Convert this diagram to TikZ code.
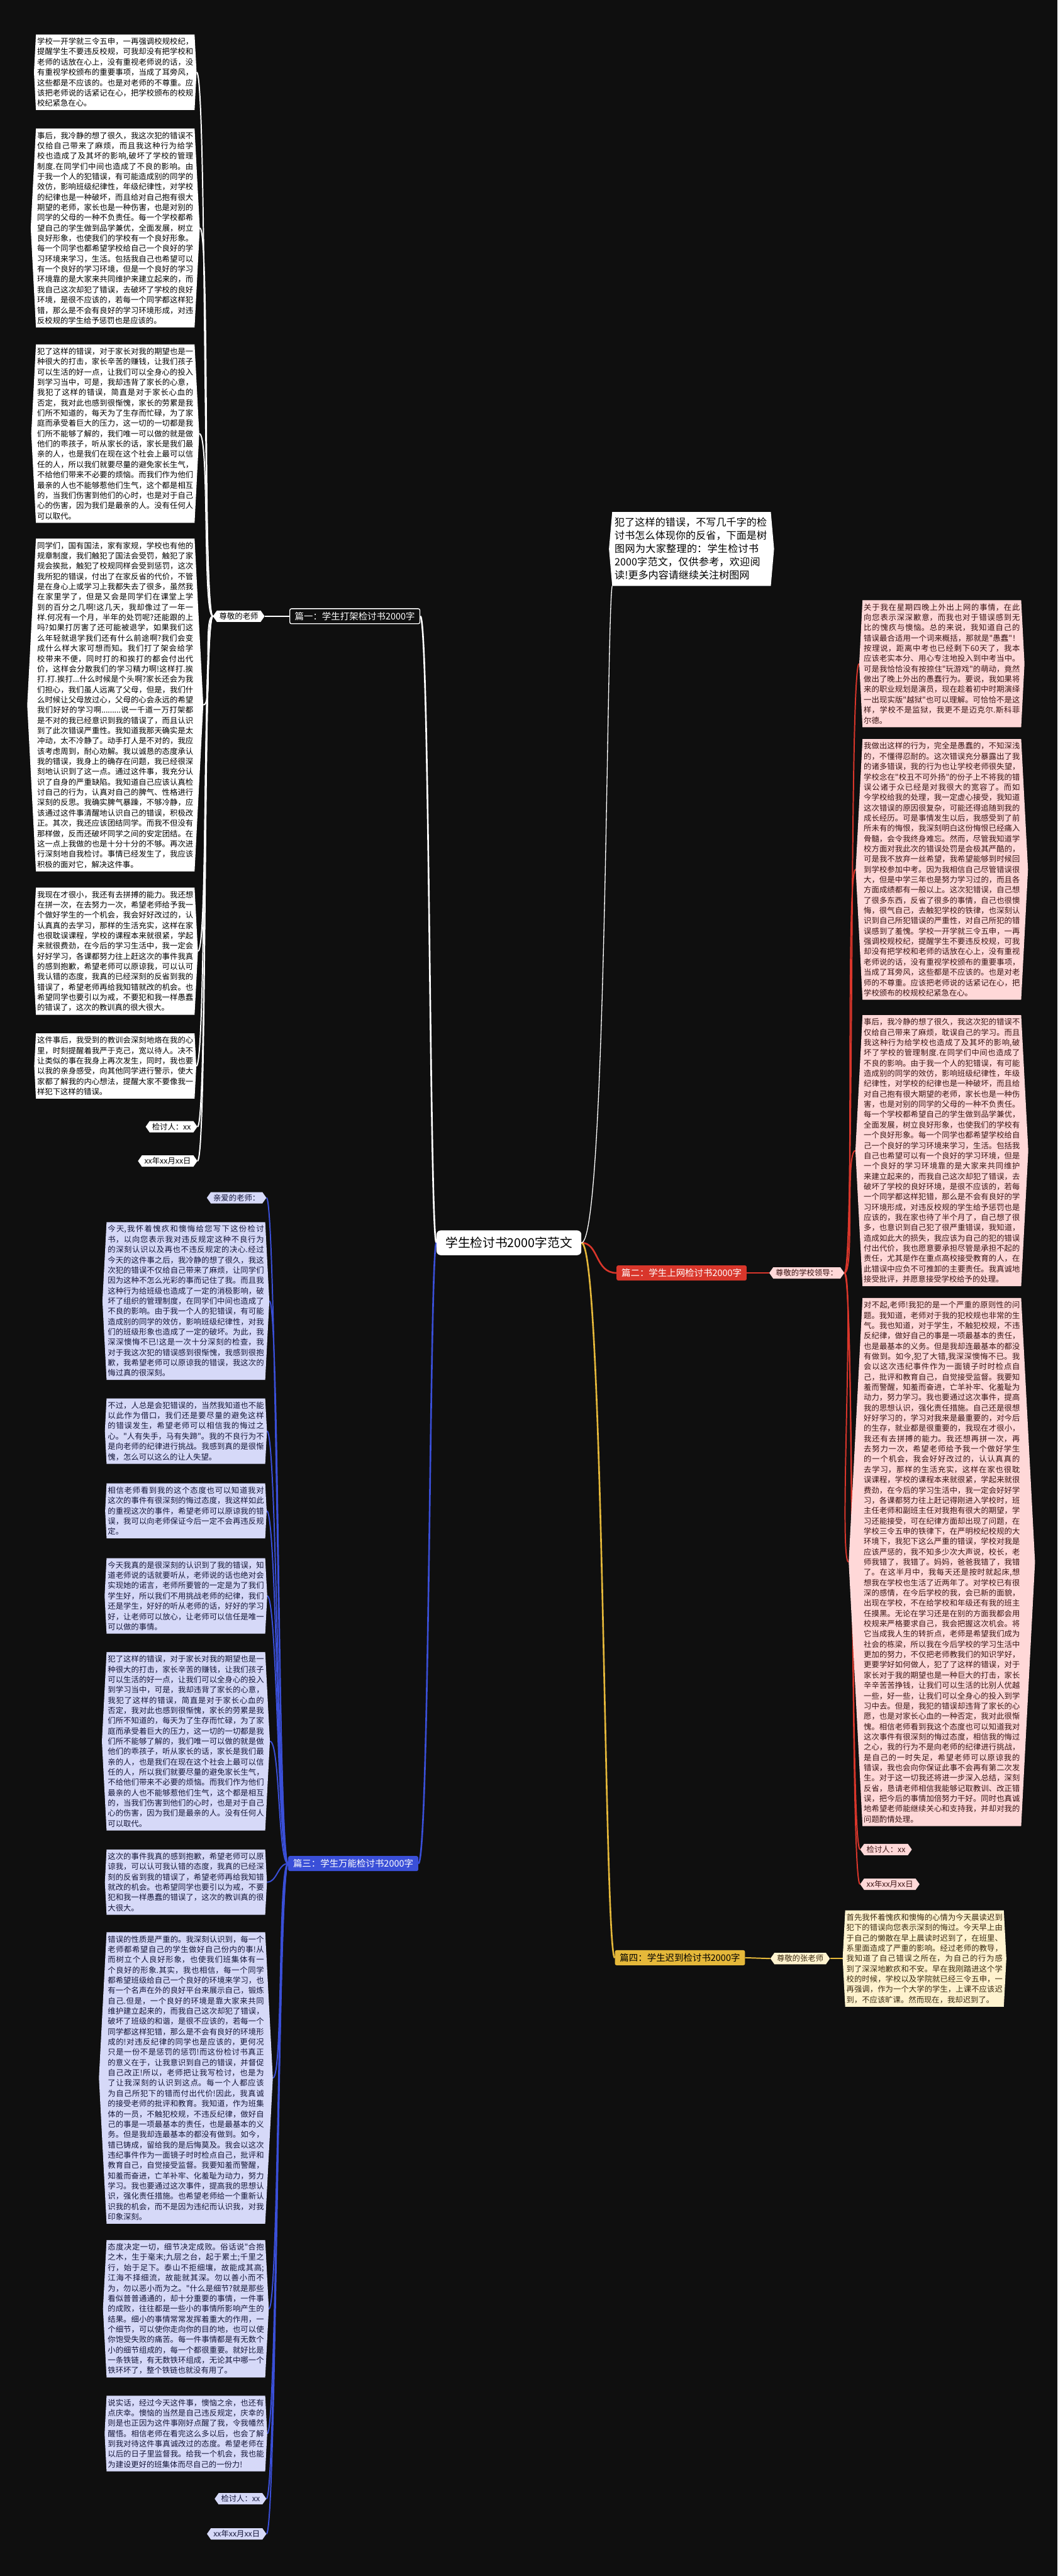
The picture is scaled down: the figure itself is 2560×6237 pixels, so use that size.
\documentclass[tikz,border=0pt]{standalone}
\usepackage{fontspec}
\newfontfamily\cjk{Noto Sans CJK SC}
\usetikzlibrary{shapes.symbols}
\XeTeXlinebreaklocale "zh"
\XeTeXlinebreakskip=0pt plus 1pt
\definecolor{bgc}{HTML}{0F0F0F}
\definecolor{pinkf}{HTML}{FFD8D8}
\definecolor{pinkt}{HTML}{3A1414}
\definecolor{bluef}{HTML}{D6D9F8}
\definecolor{bluet}{HTML}{14163A}
\definecolor{yelf}{HTML}{FFF3CF}
\definecolor{yelt}{HTML}{3A2A10}
\definecolor{redl}{HTML}{D9362B}
\definecolor{bluel}{HTML}{3A4FD8}
\definecolor{yell}{HTML}{E5B83A}
\pgfdeclarelayer{back}
\pgfdeclarelayer{bg}
\pgfsetlayers{back,bg,main}
\tikzset{
  tb/.style={signal, signal to=west and east, signal pointer angle=174,
    inner xsep=3pt, inner ysep=8pt, text width=378pt, align=justify,
    font=\cjk\fontsize{18.8}{24.9}\selectfont},
  wbox/.style={tb, fill=white, text=black},
  pbox/.style={tb, fill=pinkf, text=pinkt},
  bbox/.style={tb, fill=bluef, text=bluet},
  ybox/.style={tb, fill=yelf, text=yelt},
  sm/.style={signal, signal to=west and east, signal pointer angle=110,
    inner xsep=6pt, inner ysep=5pt, font=\cjk\fontsize{18.8}{22}\selectfont},
  branch/.style={rounded corners=4pt, inner xsep=12pt, inner ysep=8pt,
    font=\cjk\fontsize{22}{26}\selectfont},
  wl/.style={draw=white, line width=3pt},
  rl/.style={draw=redl, line width=3pt},
  bl/.style={draw=bluel, line width=3pt},
  yl/.style={draw=yell, line width=3pt},
}
\begin{document}
\begin{tikzpicture}[x=1pt,y=-1pt]
\begin{pgfonlayer}{back}
\fill[bgc] (0,0) rectangle (2560,6237);
\end{pgfonlayer}
\useasboundingbox (0,0) rectangle (2560,6237);

% center
\node[fill=white, text=black, rounded corners=10pt, inner xsep=22pt, inner ysep=16pt,
  font=\cjk\fontsize{30}{34}\selectfont] (c) at (1232,3009) {学生检讨书2000字范文};

% intro
\node[signal, signal to=west and east, signal pointer angle=170, fill=white, text=black,
  inner xsep=6pt, inner ysep=14pt, text width=372pt, align=left,
  font=\cjk\fontsize{24.5}{32}\selectfont] (intro) at (1674,1329)
  {犯了这样的错误，不写几千字的检讨书怎么体现你的反省，下面是树图网为大家整理的：学生检讨书2000字范文，仅供参考，欢迎阅读!更多内容请继续关注树图网};

% branches
\node[branch, fill=bgc, text=white, draw=white, line width=2pt] (p1) at (859,1492) {篇一：学生打架检讨书2000字};
\node[branch, fill=bluel, text=white] (p3) at (855,4512) {篇三：学生万能检讨书2000字};
\node[branch, fill=redl, text=white] (p2) at (1650,3082) {篇二：学生上网检讨书2000字};
\node[branch, fill=yell, text=black] (p4) at (1646,4740) {篇四：学生迟到检讨书2000字};

\node[sm, fill=white, text=black] (s1) at (578,1492) {尊敬的老师};
\node[sm, fill=pinkf, text=pinkt] (s2) at (1953,3082) {尊敬的学校领导：};
\node[sm, fill=yelf, text=yelt] (s4) at (1937,4742) {尊敬的张老师};

% left column (篇一)
\node[wbox] (L1) at (279,175) {学校一开学就三令五申，一再强调校规校纪，提醒学生不要违反校规，可我却没有把学校和老师的话放在心上，没有重视老师说的话，没有重视学校颁布的重要事项，当成了耳旁风，这些都是不应该的。也是对老师的不尊重。应该把老师说的话紧记在心，把学校颁布的校规校纪紧急在心。};
\node[wbox] (L2) at (279,552) {事后，我冷静的想了很久，我这次犯的错误不仅给自己带来了麻烦，而且我这种行为给学校也造成了及其坏的影响,破坏了学校的管理制度.在同学们中间也造成了不良的影响。由于我一个人的犯错误，有可能造成别的同学的效仿，影响班级纪律性，年级纪律性，对学校的纪律也是一种破坏，而且给对自己抱有很大期望的老师，家长也是一种伤害，也是对别的同学的父母的一种不负责任。每一个学校都希望自己的学生做到品学兼优，全面发展，树立良好形象，也使我们的学校有一个良好形象。每一个同学也都希望学校给自己一个良好的学习环境来学习，生活。包括我自己也希望可以有一个良好的学习环境，但是一个良好的学习环境靠的是大家来共同维护来建立起来的，而我自己这次却犯了错误，去破坏了学校的良好环境，是很不应该的，若每一个同学都这样犯错，那么是不会有良好的学习环境形成，对违反校规的学生给予惩罚也是应该的。};
\node[wbox] (L3) at (279,1050) {犯了这样的错误，对于家长对我的期望也是一种很大的打击，家长辛苦的赚钱，让我们孩子可以生活的好一点，让我们可以全身心的投入到学习当中，可是，我却违背了家长的心意，我犯了这样的错误，简直是对于家长心血的否定，我对此也感到很惭愧，家长的劳累是我们所不知道的，每天为了生存而忙碌，为了家庭而承受着巨大的压力，这一切的一切都是我们所不能够了解的，我们唯一可以做的就是做他们的乖孩子，听从家长的话，家长是我们最亲的人，也是我们在现在这个社会上最可以信任的人，所以我们就要尽量的避免家长生气，不给他们带来不必要的烦恼。而我们作为他们最亲的人也不能够惹他们生气，这个都是相互的，当我们伤害到他们的心时，也是对于自己心的伤害，因为我们是最亲的人。没有任何人可以取代。};
\node[wbox] (L4) at (279,1707) {同学们，国有国法，家有家规，学校也有他的规章制度，我们触犯了国法会受罚，触犯了家规会挨批，触犯了校规同样会受到惩罚，这次我所犯的错误，付出了在家反省的代价，不管是在身心上或学习上我都失去了很多，虽然我在家里学了，但是又会是同学们在课堂上学到的百分之几啊!这几天，我却像过了一年一样.何况有一个月，半年的处罚呢?还能跟的上吗?如果打厉害了还可能被退学，如果我们这么年轻就退学我们还有什么前途啊?我们会变成什么样大家可想而知。我们打了架会给学校带来不便，同时打的和挨打的都会付出代价，这样会分散我们的学习精力啊!这样打.挨打.打.挨打...什么时候是个头啊?家长还会为我们担心，我们虽人远离了父母，但是，我们什么时候让父母放过心，父母的心会永远的希望我们好好的学习啊.........说一千道一万打架都是不对的我已经意识到我的错误了，而且认识到了此次错误严重性。我知道我那天确实是太冲动，太不冷静了。动手打人是不对的，我应该考虑周到，耐心劝解。我以诚恳的态度承认我的错误，我身上的确存在问题，我已经很深刻地认识到了这一点。通过这件事，我充分认识了自身的严重缺陷。我知道自己应该认真检讨自己的行为，认真对自己的脾气、性格进行深刻的反思。我确实脾气暴躁，不够冷静，应该通过这件事清醒地认识自己的错误，积极改正。其次，我还应该团结同学。而我不但没有那样做，反而还破坏同学之间的安定团结。在这一点上我做的也是十分十分的不够。再次进行深刻地自我检讨。事情已经发生了，我应该积极的面对它，解决这件事。};
\node[wbox] (L5) at (279,2303) {我现在才很小，我还有去拼搏的能力。我还想在拼一次，在去努力一次，希望老师给予我一个做好学生的一个机会，我会好好改过的，认认真真的去学习，那样的生活充实，这样在家也很耽误课程，学校的课程本来就很紧，学起来就很费劲，在今后的学习生活中，我一定会好好学习，各课都努力往上赶这次的事件我真的感到抱歉，希望老师可以原谅我，可以认可我认错的态度，我真的已经深刻的反省到我的错误了，希望老师再给我知错就改的机会。也希望同学也要引以为戒，不要犯和我一样愚蠢的错误了，这次的教训真的很大很大。};
\node[wbox] (L6) at (279,2581) {这件事后，我受到的教训会深刻地烙在我的心里，时刻提醒着我严于克己，宽以待人。决不让类似的事在我身上再次发生，同时，我也要以我的亲身感受，向其他同学进行警示，使大家都了解我的内心想法，提醒大家不要像我一样犯下这样的错误。};
\node[sm, fill=white, text=black, anchor=east] (LK) at (478,2728) {检讨人：xx};
\node[sm, fill=white, text=black, anchor=east] (LD) at (478,2811) {xx年xx月xx日};

% blue column (篇三)
\node[sm, fill=bluef, text=bluet, anchor=east] (B0) at (645,2900) {亲爱的老师：};
\node[bbox] (B1) at (450,3150) {今天,我怀着愧疚和懊悔给您写下这份检讨书，以向您表示我对违反规定这种不良行为的深刻认识以及再也不违反规定的决心.经过今天的这件事之后，我冷静的想了很久，我这次犯的错误不仅给自己带来了麻烦，让同学们因为这种不怎么光彩的事而记住了我。而且我这种行为给班级也造成了一定的消极影响，破坏了组织的管理制度，在同学们中间也造成了不良的影响。由于我一个人的犯错误，有可能造成别的同学的效仿，影响班级纪律性，对我们的班级形象也造成了一定的破坏。为此，我深深懊悔不已!这是一次十分深刻的检查，我对于我这次犯的错误感到很惭愧，我感到很抱歉，我希望老师可以原谅我的错误，我这次的悔过真的很深刻。};
\node[bbox] (B2) at (450,3465) {不过，人总是会犯错误的，当然我知道也不能以此作为借口，我们还是要尽量的避免这样的错误发生，希望老师可以相信我的悔过之心。"人有失手，马有失蹄"。我的不良行为不是向老师的纪律进行挑战。我感到真的是很惭愧，怎么可以这么的让人失望。};
\node[bbox] (B3) at (450,3658) {相信老师看到我的这个态度也可以知道我对这次的事件有很深刻的悔过态度，我这样如此的重视这次的事件，希望老师可以原谅我的错误，我可以向老师保证今后一定不会再违反规定。};
\node[bbox] (B4) at (450,3864) {今天我真的是很深刻的认识到了我的错误，知道老师说的话就要听从，老师说的话也绝对会实现她的诺言，老师所要管的一定是为了我们学生好，所以我们不用挑战老师的纪律，我们还是学生，好好的听从老师的话，好好的学习好，让老师可以放心，让老师可以信任是唯一可以做的事情。};
\node[bbox] (B5) at (450,4216) {犯了这样的错误，对于家长对我的期望也是一种很大的打击，家长辛苦的赚钱，让我们孩子可以生活的好一点，让我们可以全身心的投入到学习当中，可是，我却违背了家长的心意，我犯了这样的错误，简直是对于家长心血的否定，我对此也感到很惭愧，家长的劳累是我们所不知道的，每天为了生存而忙碌，为了家庭而承受着巨大的压力，这一切的一切都是我们所不能够了解的，我们唯一可以做的就是做他们的乖孩子，听从家长的话，家长是我们最亲的人，也是我们在现在这个社会上最可以信任的人，所以我们就要尽量的避免家长生气，不给他们带来不必要的烦恼。而我们作为他们最亲的人也不能够惹他们生气，这个都是相互的，当我们伤害到他们的心时，也是对于自己心的伤害，因为我们是最亲的人。没有任何人可以取代。};
\node[bbox] (B6) at (450,4557) {这次的事件我真的感到抱歉，希望老师可以原谅我，可以认可我认错的态度，我真的已经深刻的反省到我的错误了，希望老师再给我知错就改的机会。也希望同学也要引以为戒，不要犯和我一样愚蠢的错误了，这次的教训真的很大很大。};
\node[bbox] (B7) at (450,5031) {错误的性质是严重的。我深刻认识到，每一个老师都希望自己的学生做好自己份内的事!从而树立个人良好形象，也使我们班集体有一个良好的形象.其实，我也相信，每一个同学都希望班级给自己一个良好的环境来学习，也有一个名声在外的良好平台来展示自己，锻炼自己.但是，一个良好的环境是靠大家来共同维护建立起来的，而我自己这次却犯了错误，破坏了班级的和谐，是很不应该的，若每一个同学都这样犯错，那么是不会有良好的环境形成的!对违反纪律的同学也是应该的，更何况只是一份不是惩罚的惩罚!而这份检讨书真正的意义在于，让我意识到自己的错误，并督促自己改正!所以，老师把让我写检讨，也是为了让我深刻的认识到这点。每一个人都应该为自己所犯下的错而付出代价!因此，我真诚的接受老师的批评和教育。我知道，作为班集体的一员，不触犯校规，不违反纪律，做好自己的事是一项最基本的责任，也是最基本的义务。但是我却连最基本的都没有做到。如今，错已铸成，留给我的是后悔莫及。我会以这次违纪事件作为一面镜子时时检点自己，批评和教育自己，自觉接受监督。我要知羞而警醒，知羞而奋进，亡羊补牢、化羞耻为动力，努力学习。我也要通过这次事件，提高我的思想认识，强化责任措施。也希望老师给一个重新认识我的机会，而不是因为违纪而认识我，对我印象深刻。};
\node[bbox] (B8) at (450,5590) {态度决定一切，细节决定成败。俗话说"合抱之木，生于毫末;九层之台，起于累土;千里之行，始于足下。泰山不拒细壤，故能成其高;江海不择细流，故能就其深。勿以善小而不为，勿以恶小而为之。"什么是细节?就是那些看似普普通通的，却十分重要的事情，一件事的成败，往往都是一些小的事情所影响产生的结果。细小的事情常常发挥着重大的作用，一个细节，可以使你走向你的目的地，也可以使你饱受失败的痛苦。每一件事情都是有无数个小的细节组成的，每一个都很重要。就好比是一条铁链，有无数铁环组成，无论其中哪一个铁环坏了，整个铁链也就没有用了。};
\node[bbox] (B9) at (450,5892) {说实话，经过今天这件事，懊恼之余，也还有点庆幸。懊恼的当然是自己违反规定，庆幸的则是也正因为这件事刚好点醒了我，令我幡然醒悟。相信老师在看完这么多以后，也会了解到我对待这件事真诚改过的态度。希望老师在以后的日子里监督我。给我一个机会，我也能为建设更好的班集体而尽自己的一份力!};
\node[sm, fill=bluef, text=bluet, anchor=east] (BK) at (645,6050) {检讨人：xx};
\node[sm, fill=bluef, text=bluet, anchor=east] (BD) at (645,6135) {xx年xx月xx日};

% pink column (篇二)
\node[pbox] (P1) at (2280,1607) {关于我在星期四晚上外出上网的事情，在此向您表示深深歉意，而我也对于错误感到无比的愧疚与懊恼。总的来说，我知道自己的错误最合适用一个词来概括，那就是"愚蠢"！按理说，距离中考也已经剩下60天了，我本应该老实本分、用心专注地投入到中考当中。可是我恰恰没有按捺住"玩游戏"的萌动，竟然做出了晚上外出的愚蠢行为。要说，我如果将来的职业规划是演员，现在趁着初中时期演绎一出现实版"越狱"也可以理解。可恰恰不是这样，学校不是监狱，我更不是迈克尔.斯科菲尔德。};
\node[pbox] (P2) at (2280,2105) {我做出这样的行为，完全是愚蠢的，不知深浅的，不懂得忍耐的。这次错误充分暴露出了我的诸多错误，我的行为也让学校老师很失望，学校念在"校丑不可外扬"的份子上不将我的错误公诸于众已经是对我很大的宽容了。而如今学校给我的处理，我一定虚心接受，我知道这次错误的原因很复杂，可能还得追随到我的成长经历。可是事情发生以后，我感受到了前所未有的悔恨，我深刻明白这份悔恨已经痛入骨髓，会令我终身难忘。然而，尽管我知道学校方面对我此次的错误处罚是会极其严酷的，可是我不放弃一丝希望，我希望能够到时候回到学校参加中考。因为我相信自己尽管错误很大，但是中学三年也是努力学习过的，而且各方面成绩都有一般以上。这次犯错误，自己想了很多东西，反省了很多的事情，自己也很懊悔，很气自己，去触犯学校的铁律，也深刻认识到自己所犯错误的严重性，对自己所犯的错误感到了羞愧。学校一开学就三令五申，一再强调校规校纪，提醒学生不要违反校规，可我却没有把学校和老师的话放在心上，没有重视老师说的话，没有重视学校颁布的重要事项，当成了耳旁风，这些都是不应该的。也是对老师的不尊重。应该把老师说的话紧记在心，把学校颁布的校规校纪紧急在心。};
\node[pbox] (P3) at (2280,2786) {事后，我冷静的想了很久，我这次犯的错误不仅给自己带来了麻烦，耽误自己的学习。而且我这种行为给学校也造成了及其坏的影响,破坏了学校的管理制度.在同学们中间也造成了不良的影响。由于我一个人的犯错误，有可能造成别的同学的效仿，影响班级纪律性，年级纪律性，对学校的纪律也是一种破坏，而且给对自己抱有很大期望的老师，家长也是一种伤害，也是对别的同学的父母的一种不负责任。每一个学校都希望自己的学生做到品学兼优，全面发展，树立良好形象，也使我们的学校有一个良好形象。每一个同学也都希望学校给自己一个良好的学习环境来学习，生活。包括我自己也希望可以有一个良好的学习环境，但是一个良好的学习环境靠的是大家来共同维护来建立起来的，而我自己这次却犯了错误，去破坏了学校的良好环境，是很不应该的，若每一个同学都这样犯错，那么是不会有良好的学习环境形成，对违反校规的学生给予惩罚也是应该的，我在家也待了半个月了，自己想了很多，也意识到自己犯了很严重错误，我知道，造成如此大的损失，我应该为自己的犯的错误付出代价，我也愿意要承担尽管是承担不起的责任，尤其是作在重点高校接受教育的人，在此错误中应负不可推卸的主要责任。我真诚地接受批评，并愿意接受学校给予的处理。};
\node[pbox] (P4) at (2280,3782) {对不起,老师!我犯的是一个严重的原则性的问题。我知道，老师对于我的犯校规也非常的生气。我也知道，对于学生，不触犯校规，不违反纪律，做好自己的事是一项最基本的责任，也是最基本的义务。但是我却连最基本的都没有做到。如今,犯了大错,我深深懊悔不已。我会以这次违纪事件作为一面镜子时时检点自己，批评和教育自己，自觉接受监督。我要知羞而警醒，知羞而奋进，亡羊补牢、化羞耻为动力，努力学习。我也要通过这次事件，提高我的思想认识，强化责任措施。自己还是很想好好学习的，学习对我来是最重要的，对今后的生存，就业都是很重要的，我现在才很小，我还有去拼搏的能力。我还想再拼一次，再去努力一次，希望老师给予我一个做好学生的一个机会，我会好好改过的，认认真真的去学习，那样的生活充实，这样在家也很耽误课程，学校的课程本来就很紧，学起来就很费劲，在今后的学习生活中，我一定会好好学习，各课都努力往上赶记得刚进入学校时，班主任老师和副班主任对我抱有很大的期望，学习还能接受，可在纪律方面却出现了问题，在学校三令五申的铁律下，在严明校纪校规的大环境下，我犯下这么严重的错误，学校对我是应该严惩的，我不知多少次大声说，校长，老师我错了，我错了。妈妈，爸爸我错了，我错了。在这半月中，我每天还是按时就起床,想想我在学校也生活了近两年了。对学校已有很深的感情，在今后学校的我，会已新的面貌，出现在学校，不在给学校和年级还有我的班主任摸黑。无论在学习还是在别的方面我都会用校规来严格要求自己，我会把握这次机会。将它当成我人生的转折点，老师是希望我们成为社会的栋梁，所以我在今后学校的学习生活中更加的努力，不仅把老师教我们的知识学好，更要学好如何做人，犯了了这样的错误，对于家长对于我的期望也是一种巨大的打击，家长辛辛苦苦挣钱，让我们可以生活的比别人优越一些，好一些，让我们可以全身心的投入到学习中去。但是，我犯的错误却违背了家长的心愿，也是对家长心血的一种否定，我对此很惭愧。相信老师看到我这个态度也可以知道我对这次事件有很深刻的悔过态度，相信我的悔过之心，我的行为不是向老师的纪律进行挑战，是自己的一时失足，希望老师可以原谅我的错误，我也会向你保证此事不会再有第二次发生。对于这一切我还将进一步深入总结，深刻反省，恳请老师相信我能够记取教训、改正错误，把今后的事情加倍努力干好。同时也真诚地希望老师能继续关心和支持我，并却对我的问题酌情处理。};
\node[sm, fill=pinkf, text=pinkt, anchor=west] (PK) at (2082,4478) {检讨人：xx};
\node[sm, fill=pinkf, text=pinkt, anchor=west] (PD) at (2082,4562) {xx年xx月xx日};

% yellow (篇四)
\node[ybox] (Y1) at (2238,4742) {首先我怀着愧疚和懊悔的心情为今天晨读迟到犯下的错误向您表示深刻的悔过。今天早上由于自己的懒散在早上晨读时迟到了，在班里、系里面造成了严重的影响。经过老师的教导，我知道了自己错误之所在，为自己的行为感到了深深地歉疚和不安。早在我刚踏进这个学校的时候，学校以及学院就已经三令五申，一再强调，作为一个大学的学生，上课不应该迟到，不应该旷课。然而现在，我却迟到了。};

% connectors
\begin{pgfonlayer}{bg}
\draw[wl, line width=4pt] (c.west) .. controls (1040,3009) and (1040,1492) .. (p1.east);
\draw[bl, line width=4pt] (c.west) .. controls (1040,3009) and (1040,4512) .. (p3.east);
\draw[rl, line width=4pt] (c.east) .. controls (1450,3009) and (1440,3082) .. (p2.west);
\draw[yl, line width=4pt] (c.east) .. controls (1462,3009) and (1462,4740) .. (p4.west);
\draw[draw=white, line width=2pt] (c.east) .. controls (1468,3009) and (1468,1500) .. (intro.south west);
\draw[wl] (p1.west) -- (s1.east);
\draw[rl] (p2.east) -- (s2.west);
\draw[yl] (p4.east) -- (s4.west);
\draw[yl] (s4.east) -- (Y1.west);
\foreach \n in {L1,L2,L3,L4,L5,L6,LK,LD}
  \draw[wl] (s1.west) .. controls +(-25,0) and +(25,0) .. (\n.east);
\foreach \n in {B0,B1,B2,B3,B4,B5,B6,B7,B8,B9,BK,BD}
  \draw[bl] (p3.west) .. controls +(-25,0) and +(25,0) .. (\n.east);
\foreach \n in {P1,P2,P3,P4,PK,PD}
  \draw[rl] (s2.east) .. controls +(25,0) and +(-25,0) .. (\n.west);
\end{pgfonlayer}
\end{tikzpicture}
\end{document}
